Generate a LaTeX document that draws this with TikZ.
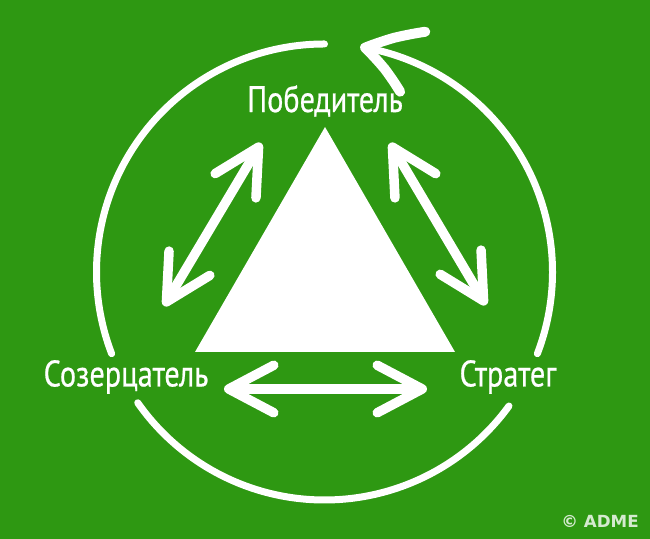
\documentclass[tikz,border=0pt]{standalone}
\usepackage{fontspec}
\setmainfont{PT Sans}[FakeStretch=0.82,FakeBold=0.6]
\newfontfamily\markfont{DejaVu Sans}
\usetikzlibrary{arrows.meta}
\usetikzlibrary{bending}
\usetikzlibrary{calc}
\definecolor{admegreen}{RGB}{46,152,18}

\begin{document}
\begin{tikzpicture}[
  ring/.style={white,line width=0.14cm,line cap=round},
  bothways/.style={white,line width=0.19cm,line cap=round,{Straight Barb[length=0.9cm,width=0.95cm,round]}-{Straight Barb[length=0.9cm,width=0.95cm,round]}},
  role/.style={text=white,inner sep=0pt,font=\fontsize{21}{24}\selectfont}]
\fill[admegreen] (0,0) rectangle (13,10.78);
\useasboundingbox (0,0) rectangle (13,10.78);
\coordinate (c) at (6.49,5.34);
% the cycle round the triangle
\draw[ring] (c) ++(90:4.56) arc[start angle=90,end angle=201,radius=4.56];
\draw[ring] (c) ++(215:4.56) arc[start angle=215,end angle=324,radius=4.56];
\draw[ring,-{Straight Barb[length=1.0cm,width=1.3cm,round,bend,line width=0.2cm]}] (c) ++(-21:4.56) arc[start angle=-21,end angle=81,radius=4.56];
% triangle
\coordinate (top) at (6.5,8.24);
\coordinate (bl) at (3.9,3.74);
\coordinate (br) at (9.1,3.74);
\fill[white] (top) -- (bl) -- (br) -- cycle;
% roles
\node[role] (win) at (6.5,8.76) {Победитель};
\node[role] (obs) at (2.52,3.24) {Созерцатель};
\node[role] (str) at (10.16,3.24) {Стратег};
% exchange arrows
\coordinate (lu) at (5.22,7.92);
\coordinate (ld) at (3.28,4.66);
\coordinate (ru) at (7.8,7.92);
\coordinate (rd) at (9.72,4.68);
\coordinate (hl) at (4.48,3.0);
\coordinate (hr) at (8.54,3.0);
\draw[bothways] (ld) -- (lu);
\draw[bothways] (ru) -- (rd);
\draw[bothways] (hl) -- (hr);
\node[text=white,opacity=0.8,font=\markfont\bfseries\fontsize{9.5}{11}\selectfont] (mark) at (12.0,0.36) {© ADME};
\end{tikzpicture}
\end{document}
